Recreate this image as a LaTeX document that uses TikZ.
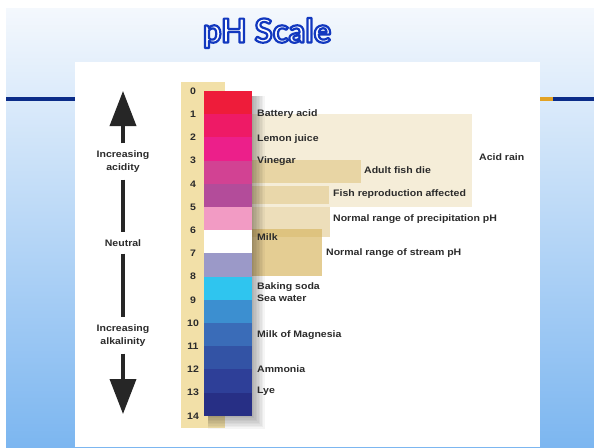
\documentclass[tikz,border=0pt]{standalone}
\usepackage{fontspec}
\setmainfont{Liberation Sans}[FakeStretch=1.12]
\newfontfamily\titlefont{Lato}
\usetikzlibrary{arrows.meta}
\definecolor{slidetop}{HTML}{F4F8FD}
\definecolor{slidebot}{HTML}{7CB6F0}
\definecolor{navyline}{HTML}{0B2C88}
\definecolor{goldline}{HTML}{E2A224}
\definecolor{labelgray}{HTML}{2B2B2B}
\definecolor{coltan}{HTML}{F2E0A8}
\definecolor{rangetan}{HTML}{D9B866}
\definecolor{ph0}{HTML}{EE1C3A}
\definecolor{ph1}{HTML}{EE1A66}
\definecolor{ph2}{HTML}{EC1F8A}
\definecolor{ph3}{HTML}{D24293}
\definecolor{ph4}{HTML}{B34C9A}
\definecolor{ph5}{HTML}{F29BC4}
\definecolor{ph6}{HTML}{FFFFFF}
\definecolor{ph7}{HTML}{9B99C8}
\definecolor{ph8}{HTML}{2FC5EF}
\definecolor{ph9}{HTML}{3C8FD0}
\definecolor{ph10}{HTML}{3A6CB8}
\definecolor{ph11}{HTML}{3353A5}
\definecolor{ph12}{HTML}{2E3F98}
\definecolor{ph13}{HTML}{272F85}
% white letters with a blue outline (fill + stroke text mode)
\newcommand{\outlined}[1]{\special{pdf:literal direct 2 Tr 2.2 w 1 j 0.07 0.22 0.75 RG}#1\special{pdf:literal direct 0 Tr}}
\tikzset{
  band/.style={rectangle, minimum width=48pt, minimum height=23.3pt, inner sep=0pt},
  num/.style={font=\bfseries\fontsize{9.4}{10}\selectfont, text=labelgray, inner sep=0pt},
  lbl/.style={font=\bfseries\fontsize{9.4}{10}\selectfont, text=labelgray, anchor=west, inner sep=0pt},
  side/.style={lbl, anchor=center, align=center, font=\bfseries\fontsize{9.4}{13}\selectfont, inner sep=2pt},
  rangebox/.style={fill=rangetan},
  sidebar/.style={draw=black!85, line width=3.6pt, shorten <=5pt, shorten >=5pt},
  bigarrow/.style={draw=black!85, line width=3.6pt, -{Triangle[width=26pt,length=35pt]}, shorten <=5pt}
}
\begin{document}
\begin{tikzpicture}[x=1pt, y=-1pt]
  \useasboundingbox (0,0) rectangle (594,447);
  % slide background
  \shade[top color=slidetop, bottom color=slidebot] (6,8) rectangle (594,447);
  \fill[navyline] (6,97) rectangle (594,101);
  \fill[goldline] (540,97) rectangle (553,101);
  \fill[white] (75,62) rectangle (540,447);
  \node[text=white, font=\titlefont\bfseries\fontsize{33}{36}\selectfont] (title) at (267,33) {\outlined{pH Scale}};

  % ranges
  \fill[rangebox, opacity=0.25] (250,114) rectangle (472,207);
  \fill[rangebox, opacity=0.45] (250,160) rectangle (361,183);
  \fill[rangebox, opacity=0.40] (250,186) rectangle (329,204);
  \fill[rangebox, opacity=0.45] (250,207) rectangle (330,237);
  \fill[rangebox, opacity=0.70] (250,229) rectangle (322,276);

  % scale
  \fill[coltan] (181,82) rectangle (225,428);
  \foreach \k in {1,...,9}
    \fill[black, opacity=0.04] (208,96) rectangle (251+1.5*\k,415+1.5*\k);
  \foreach \c [count=\i from 0] in {ph0,ph1,ph2,ph3,ph4,ph5,ph6,ph7,ph8,ph9,ph10,ph11,ph12,ph13}
    \node[band, fill=\c] (b\i) at (228,102.6+23.2*\i) {};
  \foreach \i in {0,...,14}
    \node[num] (n\i) at (193,91+23.2*\i) {\i};

  % substances
  \node[lbl] (battery) at (257,114) {Battery acid};
  \node[lbl] (lemon) at (257,139) {Lemon juice};
  \node[lbl] (vinegar) at (257,161) {Vinegar};
  \node[lbl] (milk) at (257,237) {Milk};
  \node[lbl] (baking) at (257,287) {Baking soda};
  \node[lbl] (seawater) at (257,298) {Sea water};
  \node[lbl] (magnesia) at (257,335) {Milk of Magnesia};
  \node[lbl] (ammonia) at (257,369) {Ammonia};
  \node[lbl] (lye) at (257,391) {Lye};
  \node[lbl] (acidrain) at (479,157) {Acid rain};
  \node[lbl] (fishdie) at (364,170) {Adult fish die};
  \node[lbl] (fishrepro) at (333,194) {Fish reproduction affected};
  \node[lbl] (precip) at (333,219) {Normal range of precipitation pH};
  \node[lbl] (stream) at (326,253) {Normal range of stream pH};

  % left axis
  \node[side] (acidity) at (123,161.5) {Increasing\\acidity};
  \node[side] (neutral) at (123,243) {Neutral};
  \node[side] (alkalinity) at (123,335.5) {Increasing\\alkalinity};
  \coordinate (acidtip) at (123,91);
  \coordinate (alkalitip) at (123,414);
  \draw[bigarrow] (acidity) -- (acidtip);
  \draw[sidebar] (acidity) -- (neutral);
  \draw[sidebar] (neutral) -- (alkalinity);
  \draw[bigarrow] (alkalinity) -- (alkalitip);
\end{tikzpicture}
\end{document}
